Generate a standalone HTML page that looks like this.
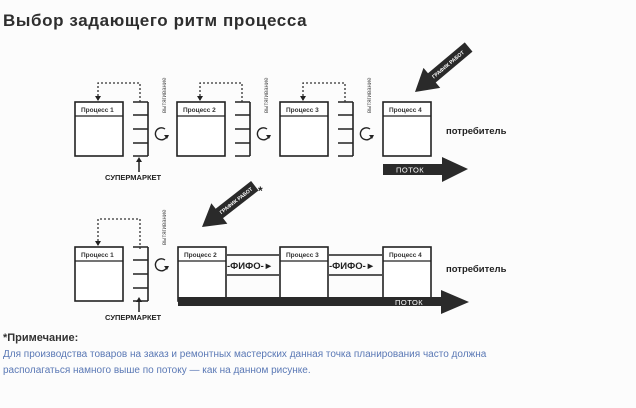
<!DOCTYPE html>
<html><head><meta charset="utf-8"><style>
html,body{margin:0;padding:0;background:#fff;}
svg{display:block;}
</style></head><body>
<svg width="636" height="408" viewBox="0 0 636 408" xmlns="http://www.w3.org/2000/svg" font-family="Liberation Sans, sans-serif">
<rect width="636" height="408" fill="#fcfcfc"/>
<text x="3" y="26" font-size="17" font-weight="bold" fill="#2e2e2e" letter-spacing="0.6">Выбор задающего ритм процесса</text>

<defs>
<g id="box">
<rect x="0" y="0" width="48" height="54" fill="#fff" stroke="#222" stroke-width="1.6"/>
<line x1="0" y1="14" x2="48" y2="14" stroke="#222" stroke-width="1.3"/>
</g>
<g id="sm">
<line x1="15" y1="0" x2="15" y2="54" stroke="#222" stroke-width="1.6"/>
<line x1="0" y1="0" x2="15" y2="0" stroke="#222" stroke-width="1.5"/>
<line x1="0" y1="13" x2="15" y2="13" stroke="#222" stroke-width="1.5"/>
<line x1="0" y1="27" x2="15" y2="27" stroke="#222" stroke-width="1.5"/>
<line x1="0" y1="41" x2="15" y2="41" stroke="#222" stroke-width="1.5"/>
<line x1="0" y1="54" x2="15" y2="54" stroke="#222" stroke-width="1.5"/>
</g>
<g id="cyc">
<path d="M4 -5 A6 6 0 1 0 6 2" fill="none" stroke="#222" stroke-width="1.4"/>
<path d="M3 1 L8 1 L6 5 Z" fill="#222"/>
</g>
</defs>

<!-- top row -->
<g>
<use href="#box" x="75" y="102"/><text x="81" y="112" font-size="6.5" font-weight="bold" fill="#333">Процесс 1</text>
<use href="#sm" x="133" y="102"/>
<path d="M98 100 V83 H140 V104" fill="none" stroke="#333" stroke-width="1.3" stroke-dasharray="2,2"/>
<path d="M95 96 L101 96 L98 101 Z" fill="#222"/>
<use href="#cyc" x="161" y="134"/>
<text transform="translate(166,113) rotate(-90)" font-size="6" fill="#555">вытягивание</text>

<use href="#box" x="177" y="102"/><text x="183" y="112" font-size="6.5" font-weight="bold" fill="#333">Процесс 2</text>
<use href="#sm" x="235" y="102"/>
<path d="M200 100 V83 H242 V104" fill="none" stroke="#333" stroke-width="1.3" stroke-dasharray="2,2"/>
<path d="M197 96 L203 96 L200 101 Z" fill="#222"/>
<use href="#cyc" x="263" y="134"/>
<text transform="translate(268,113) rotate(-90)" font-size="6" fill="#555">вытягивание</text>

<use href="#box" x="280" y="102"/><text x="286" y="112" font-size="6.5" font-weight="bold" fill="#333">Процесс 3</text>
<use href="#sm" x="338" y="102"/>
<path d="M303 100 V83 H345 V104" fill="none" stroke="#333" stroke-width="1.3" stroke-dasharray="2,2"/>
<path d="M300 96 L306 96 L303 101 Z" fill="#222"/>
<use href="#cyc" x="366" y="134"/>
<text transform="translate(371,113) rotate(-90)" font-size="6" fill="#555">вытягивание</text>

<use href="#box" x="383" y="102"/><text x="389" y="112" font-size="6.5" font-weight="bold" fill="#333">Процесс 4</text>
<text x="446" y="134" font-size="9.5" font-weight="bold" fill="#222">потребитель</text>

<line x1="139" y1="172" x2="139" y2="160" stroke="#222" stroke-width="1.5"/>
<path d="M136 162 L142 162 L139 157 Z" fill="#222"/>
<text x="105" y="180" font-size="7.5" font-weight="bold" fill="#222">СУПЕРМАРКЕТ</text>

<path d="M383 164 H442 V157 L468 169 L442 182 V175 H383 Z" fill="#2a2a2a"/>
<text x="396" y="172.5" font-size="7.5" fill="#fff" letter-spacing="0.5">ПОТОК</text>

<g transform="translate(415,92) rotate(-40)">
<path d="M0 0 L22 -13 L22 -6 L70 -6 L70 6 L22 6 L22 13 Z" fill="#2a2a2a"/>
<text x="23" y="2" font-size="5.2" font-weight="bold" fill="#fff">ГРАФИК РАБОТ</text>
</g>
</g>

<!-- bottom row -->
<g>
<use href="#box" x="75" y="247"/><text x="81" y="257" font-size="6.5" font-weight="bold" fill="#333">Процесс 1</text>
<use href="#sm" x="133" y="247"/>
<path d="M98 245 V219 H140 V249" fill="none" stroke="#333" stroke-width="1.3" stroke-dasharray="2,2"/>
<path d="M95 241 L101 241 L98 246 Z" fill="#222"/>
<use href="#cyc" x="161" y="265"/>
<text transform="translate(166,245) rotate(-90)" font-size="6" fill="#555">вытягивание</text>

<use href="#box" x="178" y="247"/><text x="184" y="257" font-size="6.5" font-weight="bold" fill="#333">Процесс 2</text>
<use href="#box" x="280" y="247"/><text x="286" y="257" font-size="6.5" font-weight="bold" fill="#333">Процесс 3</text>
<use href="#box" x="383" y="247"/><text x="389" y="257" font-size="6.5" font-weight="bold" fill="#333">Процесс 4</text>

<line x1="227" y1="255" x2="279" y2="255" stroke="#222" stroke-width="1.5"/>
<line x1="227" y1="275" x2="279" y2="275" stroke="#222" stroke-width="1.5"/>
<text x="227" y="269" font-size="9.5" font-weight="bold" fill="#222">-ФИФО-►</text>
<line x1="329" y1="255" x2="382" y2="255" stroke="#222" stroke-width="1.5"/>
<line x1="329" y1="275" x2="382" y2="275" stroke="#222" stroke-width="1.5"/>
<text x="329" y="269" font-size="9.5" font-weight="bold" fill="#222">-ФИФО-►</text>

<text x="446" y="272" font-size="9.5" font-weight="bold" fill="#222">потребитель</text>

<line x1="139" y1="312" x2="139" y2="300" stroke="#222" stroke-width="1.5"/>
<path d="M136 302 L142 302 L139 297 Z" fill="#222"/>
<text x="105" y="320" font-size="7.5" font-weight="bold" fill="#222">СУПЕРМАРКЕТ</text>

<path d="M178 297 H441 V290 L469 302 L441 314 V306 H178 Z" fill="#2a2a2a"/>
<text x="395" y="305" font-size="7.5" fill="#fff" letter-spacing="0.5">ПОТОК</text>

<g transform="translate(202,227) rotate(-38)">
<path d="M0 0 L22 -13 L22 -6 L67 -6 L67 6 L22 6 L22 13 Z" fill="#2a2a2a"/>
<text x="23" y="2" font-size="5.2" font-weight="bold" fill="#fff">ГРАФИК РАБОТ</text>
</g>
<text x="258" y="195" font-size="12" font-weight="bold" fill="#222">*</text>
</g>

<text x="3" y="341" font-size="11" font-weight="bold" fill="#333">*Примечание:</text>
<text x="3" y="357" font-size="10" fill="#5a78b5">Для производства товаров на заказ и ремонтных мастерских данная точка планирования часто должна</text>
<text x="3" y="373" font-size="10" fill="#5a78b5">располагаться намного выше по потоку — как на данном рисунке.</text>
</svg>
</body></html>
